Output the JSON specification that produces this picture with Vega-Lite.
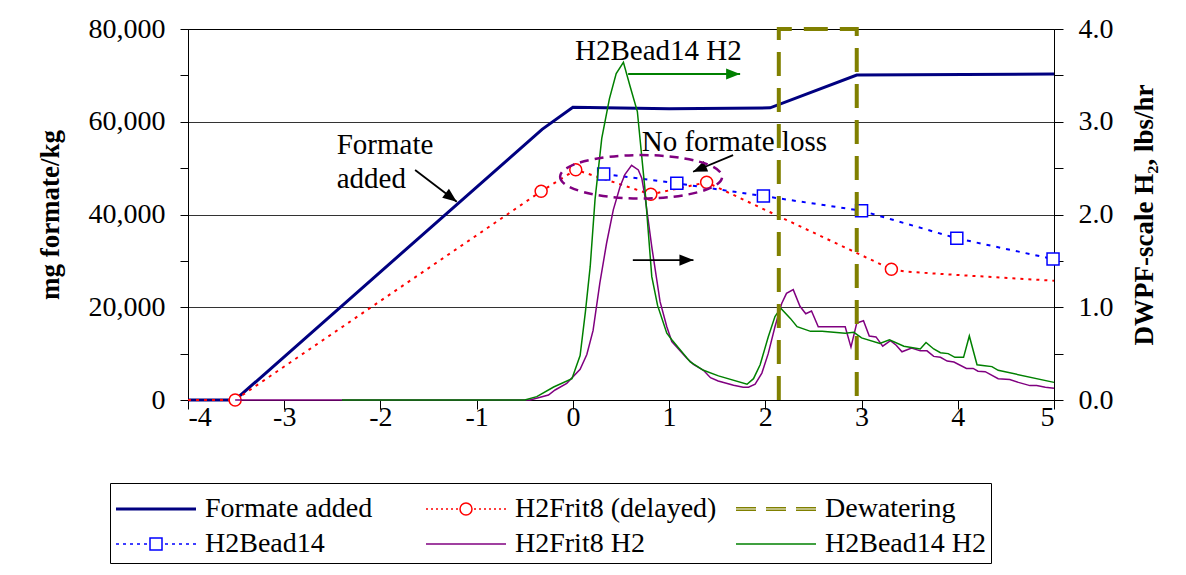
{
  "$schema": "https://vega.github.io/schema/vega-lite/v6.json",
  "width": 866,
  "height": 371,
  "autosize": "none",
  "padding": {"left": 188, "top": 29, "right": 132, "bottom": 175},
  "background": "white",
  "config": {
    "font": "Liberation Serif",
    "view": {"stroke": "#000", "strokeWidth": 1},
    "axis": {"labelFont": "Liberation Serif", "labelFontSize": 28, "labelColor": "#000", "titleFont": "Liberation Serif", "titleFontSize": 27, "titleFontWeight": "bold", "titleColor": "#000", "tickColor": "#000", "domainColor": "#000", "tickWidth": 1, "domainWidth": 1, "grid": false, "labelOverlap": false}
  },
  "encoding": {
    "x": {"field": "t", "type": "quantitative", "scale": {"domain": [-4, 5], "nice": false, "zero": false},
      "axis": {"title": null, "values": [-4, -3, -2, -1, 0, 1, 2, 3, 4, 5], "labelExpr": "datum.value + ''", "tickSize": 9, "labelPadding": -6}}
  },
  "layer": [
    {
      "data": {"values": [
        {"series": "Formate added", "t": -4, "v": 0},
        {"series": "Formate added", "t": -3.51, "v": 0},
        {"series": "Formate added", "t": -0.32, "v": 58360},
        {"series": "Formate added", "t": 0, "v": 63100},
        {"series": "Formate added", "t": 1.0, "v": 62800},
        {"series": "Formate added", "t": 2.05, "v": 63000},
        {"series": "Formate added", "t": 2.95, "v": 70070},
        {"series": "Formate added", "t": 5, "v": 70300},
        {"series": "H2Frit8 (delayed)", "t": -4, "v": 0},
        {"series": "H2Frit8 (delayed)", "t": -3.51, "v": 0},
        {"series": "H2Frit8 (delayed)", "t": -0.33, "v": 45000},
        {"series": "H2Frit8 (delayed)", "t": 0.03, "v": 49650},
        {"series": "H2Frit8 (delayed)", "t": 0.81, "v": 44350},
        {"series": "H2Frit8 (delayed)", "t": 1.39, "v": 46940},
        {"series": "H2Frit8 (delayed)", "t": 3.31, "v": 28180},
        {"series": "H2Frit8 (delayed)", "t": 3.47, "v": 27660},
        {"series": "H2Frit8 (delayed)", "t": 4.0, "v": 26950},
        {"series": "H2Frit8 (delayed)", "t": 5.0, "v": 25720},
        {"series": "H2Bead14", "t": 0.32, "v": 48730},
        {"series": "H2Bead14", "t": 1.08, "v": 46720},
        {"series": "H2Bead14", "t": 1.98, "v": 43980},
        {"series": "H2Bead14", "t": 3.0, "v": 40810},
        {"series": "H2Bead14", "t": 3.99, "v": 34860},
        {"series": "H2Bead14", "t": 4.99, "v": 30400}
      ]},
      "encoding": {
        "y": {"field": "v", "type": "quantitative", "scale": {"domain": [0, 80000], "nice": false},
          "axis": {"orient": "left", "title": "mg formate/kg", "values": [0, 10000, 20000, 30000, 40000, 50000, 60000, 70000, 80000],
            "labelExpr": "datum.value % 20000 === 0 ? format(datum.value, ',') : ''",
            "tickSize": 8, "labelPadding": 15, "titlePadding": 24,
            "grid": true, "gridColor": "#000", "gridWidth": 1,
            "gridOpacity": {"condition": {"test": "datum.value % 20000 === 0", "value": 0.8}, "value": 0}}}
      },
      "layer": [
        {
          "transform": [{"filter": "datum.series === 'Formate added'"}],
          "mark": {"type": "line", "strokeWidth": 3},
          "encoding": {
            "color": {"field": "series", "type": "nominal",
              "scale": {"domain": ["Formate added", "H2Frit8 (delayed)", "Dewatering", "H2Bead14", "H2Frit8 H2", "H2Bead14 H2"],
                "range": ["#000080", "#FF0000", "#808000", "#0000FF", "#800080", "#008000"]},
              "legend": {
                "orient": "none", "legendX": -78, "legendY": 454, "title": null,
                "direction": "horizontal",
                "columns": 3, "gridAlign": "all", "columnPadding": 16, "rowPadding": -2,
                "symbolSize": 1600, "symbolStrokeWidth": 1.5, "symbolType": "stroke",
                "labelFont": "Liberation Serif", "labelFontSize": 28, "labelColor": "#000", "labelOffset": 48, "labelLimit": 400,
                "padding": 5, "strokeColor": "#000", "fillColor": "#fff",
                "encode": {"symbols": {"update": {
                  "shape": {"signal": "['M-1,-0.04H3M-1,0.04H3', 'M-1,0h0.1M-0.75,0h0.1M-0.5,0h0.1M-0.25,0h0.1M0,0h0.1M0.25,0h0.1M0.5,0h0.1M1.4,0h0.1M1.65,0h0.1M1.9,0h0.1M2.15,0h0.1M2.4,0h0.1M2.65,0h0.1M2.9,0h0.1M1.3,0A0.3,0.3 0 1,1 0.7,0A0.3,0.3 0 1,1 1.3,0Z', 'M-1,-0.06H0M0.5,-0.06H1.5M2,-0.06H3M-1,0.06H0M0.5,0.06H1.5M2,0.06H3', 'M-1,0h0.15M-0.65,0h0.15M-0.3,0h0.15M0.05,0h0.15M0.4,0h0.15M1.45,0h0.15M1.8,0h0.15M2.15,0h0.15M2.5,0h0.15M2.85,0h0.15M0.7,-0.3H1.3V0.3H0.7Z', 'M-1,0H3', 'M-1,0H3'][indexof(['Formate added', 'H2Frit8 (delayed)', 'Dewatering', 'H2Bead14', 'H2Frit8 H2', 'H2Bead14 H2'], datum.value)]"},
                  "strokeWidth": {"value": 1.5},
                  "strokeDash": {"value": []},
                  "fill": {"value": "transparent"},
                  "opacity": {"value": 1}
                }}}
              }}
          }
        },
        {
          "transform": [{"filter": "datum.series === 'H2Frit8 (delayed)'"}],
          "mark": {"type": "line", "strokeWidth": 2, "strokeDash": [3, 5]},
          "encoding": {"color": {"field": "series", "type": "nominal",
            "scale": {"domain": ["Formate added", "H2Frit8 (delayed)", "Dewatering", "H2Bead14", "H2Frit8 H2", "H2Bead14 H2"],
              "range": ["#000080", "#FF0000", "#808000", "#0000FF", "#800080", "#008000"]}}}
        },
        {
          "transform": [{"filter": "datum.series === 'H2Bead14'"}],
          "mark": {"type": "line", "strokeWidth": 2, "strokeDash": [4, 6]},
          "encoding": {"color": {"field": "series", "type": "nominal",
            "scale": {"domain": ["Formate added", "H2Frit8 (delayed)", "Dewatering", "H2Bead14", "H2Frit8 H2", "H2Bead14 H2"],
              "range": ["#000080", "#FF0000", "#808000", "#0000FF", "#800080", "#008000"]}}}
        },
        {
          "transform": [{"filter": "datum.series === 'H2Frit8 (delayed)' && datum.t > -3.8 && datum.t < 3.4"}],
          "mark": {"type": "point", "shape": "circle", "size": 144, "filled": false, "fill": "#fff", "stroke": "#FF0000", "strokeWidth": 1.5, "opacity": 1}
        },
        {
          "transform": [{"filter": "datum.series === 'H2Bead14'"}],
          "mark": {"type": "point", "shape": "square", "size": 144, "filled": false, "fill": "#fff", "stroke": "#0000FF", "strokeWidth": 1.5, "opacity": 1}
        }
      ]
    },
    {
      "data": {"values": [
        {"series": "H2Frit8 H2", "t": -3.51, "v": 0}, {"series": "H2Frit8 H2", "t": -0.445, "v": 0}, {"series": "H2Frit8 H2", "t": -0.254, "v": 0.054}, {"series": "H2Frit8 H2", "t": -0.185, "v": 0.108}, {"series": "H2Frit8 H2", "t": -0.064, "v": 0.18}, {"series": "H2Frit8 H2", "t": 0.075, "v": 0.33}, {"series": "H2Frit8 H2", "t": 0.145, "v": 0.49}, {"series": "H2Frit8 H2", "t": 0.21, "v": 0.75}, {"series": "H2Frit8 H2", "t": 0.28, "v": 1.26}, {"series": "H2Frit8 H2", "t": 0.35, "v": 1.69}, {"series": "H2Frit8 H2", "t": 0.42, "v": 2.05}, {"series": "H2Frit8 H2", "t": 0.49, "v": 2.30}, {"series": "H2Frit8 H2", "t": 0.54, "v": 2.43}, {"series": "H2Frit8 H2", "t": 0.61, "v": 2.53}, {"series": "H2Frit8 H2", "t": 0.68, "v": 2.48}, {"series": "H2Frit8 H2", "t": 0.716, "v": 2.39}, {"series": "H2Frit8 H2", "t": 0.75, "v": 2.19}, {"series": "H2Frit8 H2", "t": 0.82, "v": 1.65}, {"series": "H2Frit8 H2", "t": 0.906, "v": 1.06}, {"series": "H2Frit8 H2", "t": 0.976, "v": 0.79}, {"series": "H2Frit8 H2", "t": 1.028, "v": 0.63}, {"series": "H2Frit8 H2", "t": 1.184, "v": 0.45}, {"series": "H2Frit8 H2", "t": 1.253, "v": 0.385}, {"series": "H2Frit8 H2", "t": 1.357, "v": 0.32}, {"series": "H2Frit8 H2", "t": 1.43, "v": 0.24}, {"series": "H2Frit8 H2", "t": 1.51, "v": 0.205}, {"series": "H2Frit8 H2", "t": 1.67, "v": 0.16}, {"series": "H2Frit8 H2", "t": 1.77, "v": 0.137}, {"series": "H2Frit8 H2", "t": 1.825, "v": 0.137}, {"series": "H2Frit8 H2", "t": 1.894, "v": 0.17}, {"series": "H2Frit8 H2", "t": 1.964, "v": 0.29}, {"series": "H2Frit8 H2", "t": 2.03, "v": 0.50}, {"series": "H2Frit8 H2", "t": 2.10, "v": 0.79}, {"series": "H2Frit8 H2", "t": 2.17, "v": 1.04}, {"series": "H2Frit8 H2", "t": 2.22, "v": 1.15}, {"series": "H2Frit8 H2", "t": 2.29, "v": 1.19}, {"series": "H2Frit8 H2", "t": 2.36, "v": 1.01}, {"series": "H2Frit8 H2", "t": 2.42, "v": 0.93}, {"series": "H2Frit8 H2", "t": 2.48, "v": 0.96}, {"series": "H2Frit8 H2", "t": 2.55, "v": 0.79}, {"series": "H2Frit8 H2", "t": 2.83, "v": 0.79}, {"series": "H2Frit8 H2", "t": 2.89, "v": 0.57}, {"series": "H2Frit8 H2", "t": 2.95, "v": 0.83}, {"series": "H2Frit8 H2", "t": 3.02, "v": 0.855}, {"series": "H2Frit8 H2", "t": 3.08, "v": 0.69}, {"series": "H2Frit8 H2", "t": 3.15, "v": 0.68}, {"series": "H2Frit8 H2", "t": 3.22, "v": 0.58}, {"series": "H2Frit8 H2", "t": 3.30, "v": 0.64}, {"series": "H2Frit8 H2", "t": 3.36, "v": 0.59}, {"series": "H2Frit8 H2", "t": 3.42, "v": 0.52}, {"series": "H2Frit8 H2", "t": 3.52, "v": 0.56}, {"series": "H2Frit8 H2", "t": 3.61, "v": 0.53}, {"series": "H2Frit8 H2", "t": 3.68, "v": 0.53}, {"series": "H2Frit8 H2", "t": 3.75, "v": 0.47}, {"series": "H2Frit8 H2", "t": 3.82, "v": 0.46}, {"series": "H2Frit8 H2", "t": 3.89, "v": 0.42}, {"series": "H2Frit8 H2", "t": 3.96, "v": 0.41}, {"series": "H2Frit8 H2", "t": 4.09, "v": 0.34}, {"series": "H2Frit8 H2", "t": 4.16, "v": 0.34}, {"series": "H2Frit8 H2", "t": 4.21, "v": 0.31}, {"series": "H2Frit8 H2", "t": 4.285, "v": 0.305}, {"series": "H2Frit8 H2", "t": 4.42, "v": 0.23}, {"series": "H2Frit8 H2", "t": 4.54, "v": 0.22}, {"series": "H2Frit8 H2", "t": 4.63, "v": 0.19}, {"series": "H2Frit8 H2", "t": 4.75, "v": 0.155}, {"series": "H2Frit8 H2", "t": 4.82, "v": 0.155}, {"series": "H2Frit8 H2", "t": 4.91, "v": 0.137}, {"series": "H2Frit8 H2", "t": 5.0, "v": 0.126},
        {"series": "H2Bead14 H2", "t": -2.40, "v": 0}, {"series": "H2Bead14 H2", "t": -0.50, "v": 0}, {"series": "H2Bead14 H2", "t": -0.375, "v": 0.036}, {"series": "H2Bead14 H2", "t": -0.20, "v": 0.14}, {"series": "H2Bead14 H2", "t": -0.01, "v": 0.23}, {"series": "H2Bead14 H2", "t": 0.075, "v": 0.48}, {"series": "H2Bead14 H2", "t": 0.13, "v": 0.95}, {"series": "H2Bead14 H2", "t": 0.18, "v": 1.44}, {"series": "H2Bead14 H2", "t": 0.23, "v": 2.16}, {"series": "H2Bead14 H2", "t": 0.30, "v": 2.82}, {"series": "H2Bead14 H2", "t": 0.38, "v": 3.25}, {"series": "H2Bead14 H2", "t": 0.45, "v": 3.52}, {"series": "H2Bead14 H2", "t": 0.525, "v": 3.64}, {"series": "H2Bead14 H2", "t": 0.595, "v": 3.38}, {"series": "H2Bead14 H2", "t": 0.67, "v": 3.11}, {"series": "H2Bead14 H2", "t": 0.75, "v": 2.26}, {"series": "H2Bead14 H2", "t": 0.82, "v": 1.33}, {"series": "H2Bead14 H2", "t": 0.88, "v": 1.02}, {"series": "H2Bead14 H2", "t": 0.976, "v": 0.72}, {"series": "H2Bead14 H2", "t": 1.028, "v": 0.65}, {"series": "H2Bead14 H2", "t": 1.22, "v": 0.41}, {"series": "H2Bead14 H2", "t": 1.357, "v": 0.32}, {"series": "H2Bead14 H2", "t": 1.513, "v": 0.26}, {"series": "H2Bead14 H2", "t": 1.81, "v": 0.17}, {"series": "H2Bead14 H2", "t": 1.877, "v": 0.23}, {"series": "H2Bead14 H2", "t": 1.946, "v": 0.38}, {"series": "H2Bead14 H2", "t": 2.03, "v": 0.68}, {"series": "H2Bead14 H2", "t": 2.10, "v": 0.90}, {"series": "H2Bead14 H2", "t": 2.16, "v": 0.99}, {"series": "H2Bead14 H2", "t": 2.26, "v": 0.88}, {"series": "H2Bead14 H2", "t": 2.33, "v": 0.79}, {"series": "H2Bead14 H2", "t": 2.47, "v": 0.74}, {"series": "H2Bead14 H2", "t": 2.59, "v": 0.74}, {"series": "H2Bead14 H2", "t": 2.71, "v": 0.73}, {"series": "H2Bead14 H2", "t": 2.83, "v": 0.72}, {"series": "H2Bead14 H2", "t": 2.92, "v": 0.73}, {"series": "H2Bead14 H2", "t": 3.0, "v": 0.67}, {"series": "H2Bead14 H2", "t": 3.19, "v": 0.61}, {"series": "H2Bead14 H2", "t": 3.29, "v": 0.65}, {"series": "H2Bead14 H2", "t": 3.44, "v": 0.58}, {"series": "H2Bead14 H2", "t": 3.61, "v": 0.55}, {"series": "H2Bead14 H2", "t": 3.67, "v": 0.62}, {"series": "H2Bead14 H2", "t": 3.75, "v": 0.55}, {"series": "H2Bead14 H2", "t": 3.82, "v": 0.51}, {"series": "H2Bead14 H2", "t": 3.90, "v": 0.50}, {"series": "H2Bead14 H2", "t": 3.97, "v": 0.46}, {"series": "H2Bead14 H2", "t": 4.06, "v": 0.46}, {"series": "H2Bead14 H2", "t": 4.12, "v": 0.69}, {"series": "H2Bead14 H2", "t": 4.20, "v": 0.38}, {"series": "H2Bead14 H2", "t": 4.28, "v": 0.37}, {"series": "H2Bead14 H2", "t": 4.355, "v": 0.36}, {"series": "H2Bead14 H2", "t": 4.42, "v": 0.32}, {"series": "H2Bead14 H2", "t": 5.0, "v": 0.19},
        {"series": "Dewatering", "t": 2.14, "v": 0, "i": 1},
        {"series": "Dewatering", "t": 2.14, "v": 4, "i": 2},
        {"series": "Dewatering", "t": 2.95, "v": 4, "i": 3},
        {"series": "Dewatering", "t": 2.95, "v": 0, "i": 4}
      ]},
      "encoding": {
        "y": {"field": "v", "type": "quantitative", "scale": {"domain": [0, 4], "nice": false},
          "axis": {"orient": "right", "title": "DWPF-scale H₂, lbs/hr", "values": [0, 0.5, 1, 1.5, 2, 2.5, 3, 3.5, 4],
            "labelExpr": "datum.value % 1 === 0 ? format(datum.value, '.1f') : ''",
            "tickSize": 9, "labelPadding": 15, "titleAngle": -90, "titleBaseline": "top", "titlePadding": 18}}
      },
      "layer": [
        {
          "transform": [{"filter": "datum.series === 'H2Frit8 H2' || datum.series === 'H2Bead14 H2'"}],
          "mark": {"type": "line", "strokeWidth": 1.5},
          "encoding": {"color": {"field": "series", "type": "nominal",
            "scale": {"domain": ["Formate added", "H2Frit8 (delayed)", "Dewatering", "H2Bead14", "H2Frit8 H2", "H2Bead14 H2"],
              "range": ["#000080", "#FF0000", "#808000", "#0000FF", "#800080", "#008000"]}}}
        },
        {
          "transform": [{"filter": "datum.series === 'Dewatering'"}],
          "mark": {"type": "line", "strokeWidth": 4, "strokeDash": [24, 12]},
          "encoding": {"order": {"field": "i", "type": "quantitative"},
            "color": {"field": "series", "type": "nominal",
            "scale": {"domain": ["Formate added", "H2Frit8 (delayed)", "Dewatering", "H2Bead14", "H2Frit8 H2", "H2Bead14 H2"],
              "range": ["#000080", "#FF0000", "#808000", "#0000FF", "#800080", "#008000"]}}}
        },
        {
          "data": {"values": [
            {"arrow": "green", "t": 0.574, "v": 3.515, "t2": 1.738, "v2": 3.515},
            {"arrow": "formate", "t": -1.640, "v": 2.480, "t2": -1.207, "v2": 2.138},
            {"arrow": "loss", "t": 1.665, "v": 2.641, "t2": 1.249, "v2": 2.461},
            {"arrow": "middle", "t": 0.623, "v": 1.509, "t2": 1.253, "v2": 1.509}
          ]},
          "mark": {"type": "rule", "strokeWidth": 1.8},
          "encoding": {
            "x2": {"field": "t2"}, "y2": {"field": "v2"},
            "color": {"condition": {"test": "datum.arrow === 'green'", "value": "#008000"}, "value": "#000"}
          }
        },
        {
          "data": {"values": [
            {"arrow": "green", "t": 1.738, "v": 3.515},
            {"arrow": "middle", "t": 1.253, "v": 1.509}
          ]},
          "mark": {"type": "point", "shape": "M0,0L-1,-0.4L-1,0.4Z", "size": 784, "filled": true, "opacity": 1, "angle": 0},
          "encoding": {"color": {"condition": {"test": "datum.arrow === 'green'", "value": "#008000"}, "value": "#000"}}
        },
        {
          "data": {"values": [{"arrow": "formate", "t": -1.207, "v": 2.138}]},
          "mark": {"type": "point", "shape": "M0,0L-1,-0.4L-1,0.4Z", "size": 784, "filled": true, "opacity": 1, "angle": 37, "color": "#000"}
        },
        {
          "data": {"values": [{"arrow": "loss", "t": 1.249, "v": 2.461}]},
          "mark": {"type": "point", "shape": "M0,0L-1,-0.4L-1,0.4Z", "size": 784, "filled": true, "opacity": 1, "angle": 157, "color": "#000"}
        },
        {
          "data": {"values": [{"note": "no formate loss region", "t": 0.709, "v": 2.407}]},
          "mark": {"type": "point", "shape": "M-1,0A1,0.268 0 1,0 1,0A1,0.268 0 1,0 -1,0Z", "size": 26244, "filled": false, "fill": "transparent", "stroke": "#800080", "strokeWidth": 2.5, "strokeDash": [9, 6], "opacity": 1}
        },
        {
          "data": {"values": [
            {"label": "H2Bead14 H2", "t": 0.889, "v": 3.765},
            {"label": "No formate loss", "t": 1.678, "v": 2.785}
          ]},
          "mark": {"type": "text", "font": "Liberation Serif", "fontSize": 29, "align": "center", "baseline": "middle", "color": "#000"},
          "encoding": {"text": {"field": "label"}}
        },
        {
          "data": {"values": [
            {"label": "Formate", "t": -2.455, "v": 2.749},
            {"label": "added", "t": -2.455, "v": 2.383}
          ]},
          "mark": {"type": "text", "font": "Liberation Serif", "fontSize": 29, "align": "left", "baseline": "middle", "color": "#000"},
          "encoding": {"text": {"field": "label"}}
        }
      ]
    }
  ],
  "resolve": {"scale": {"y": "independent"}}
}
